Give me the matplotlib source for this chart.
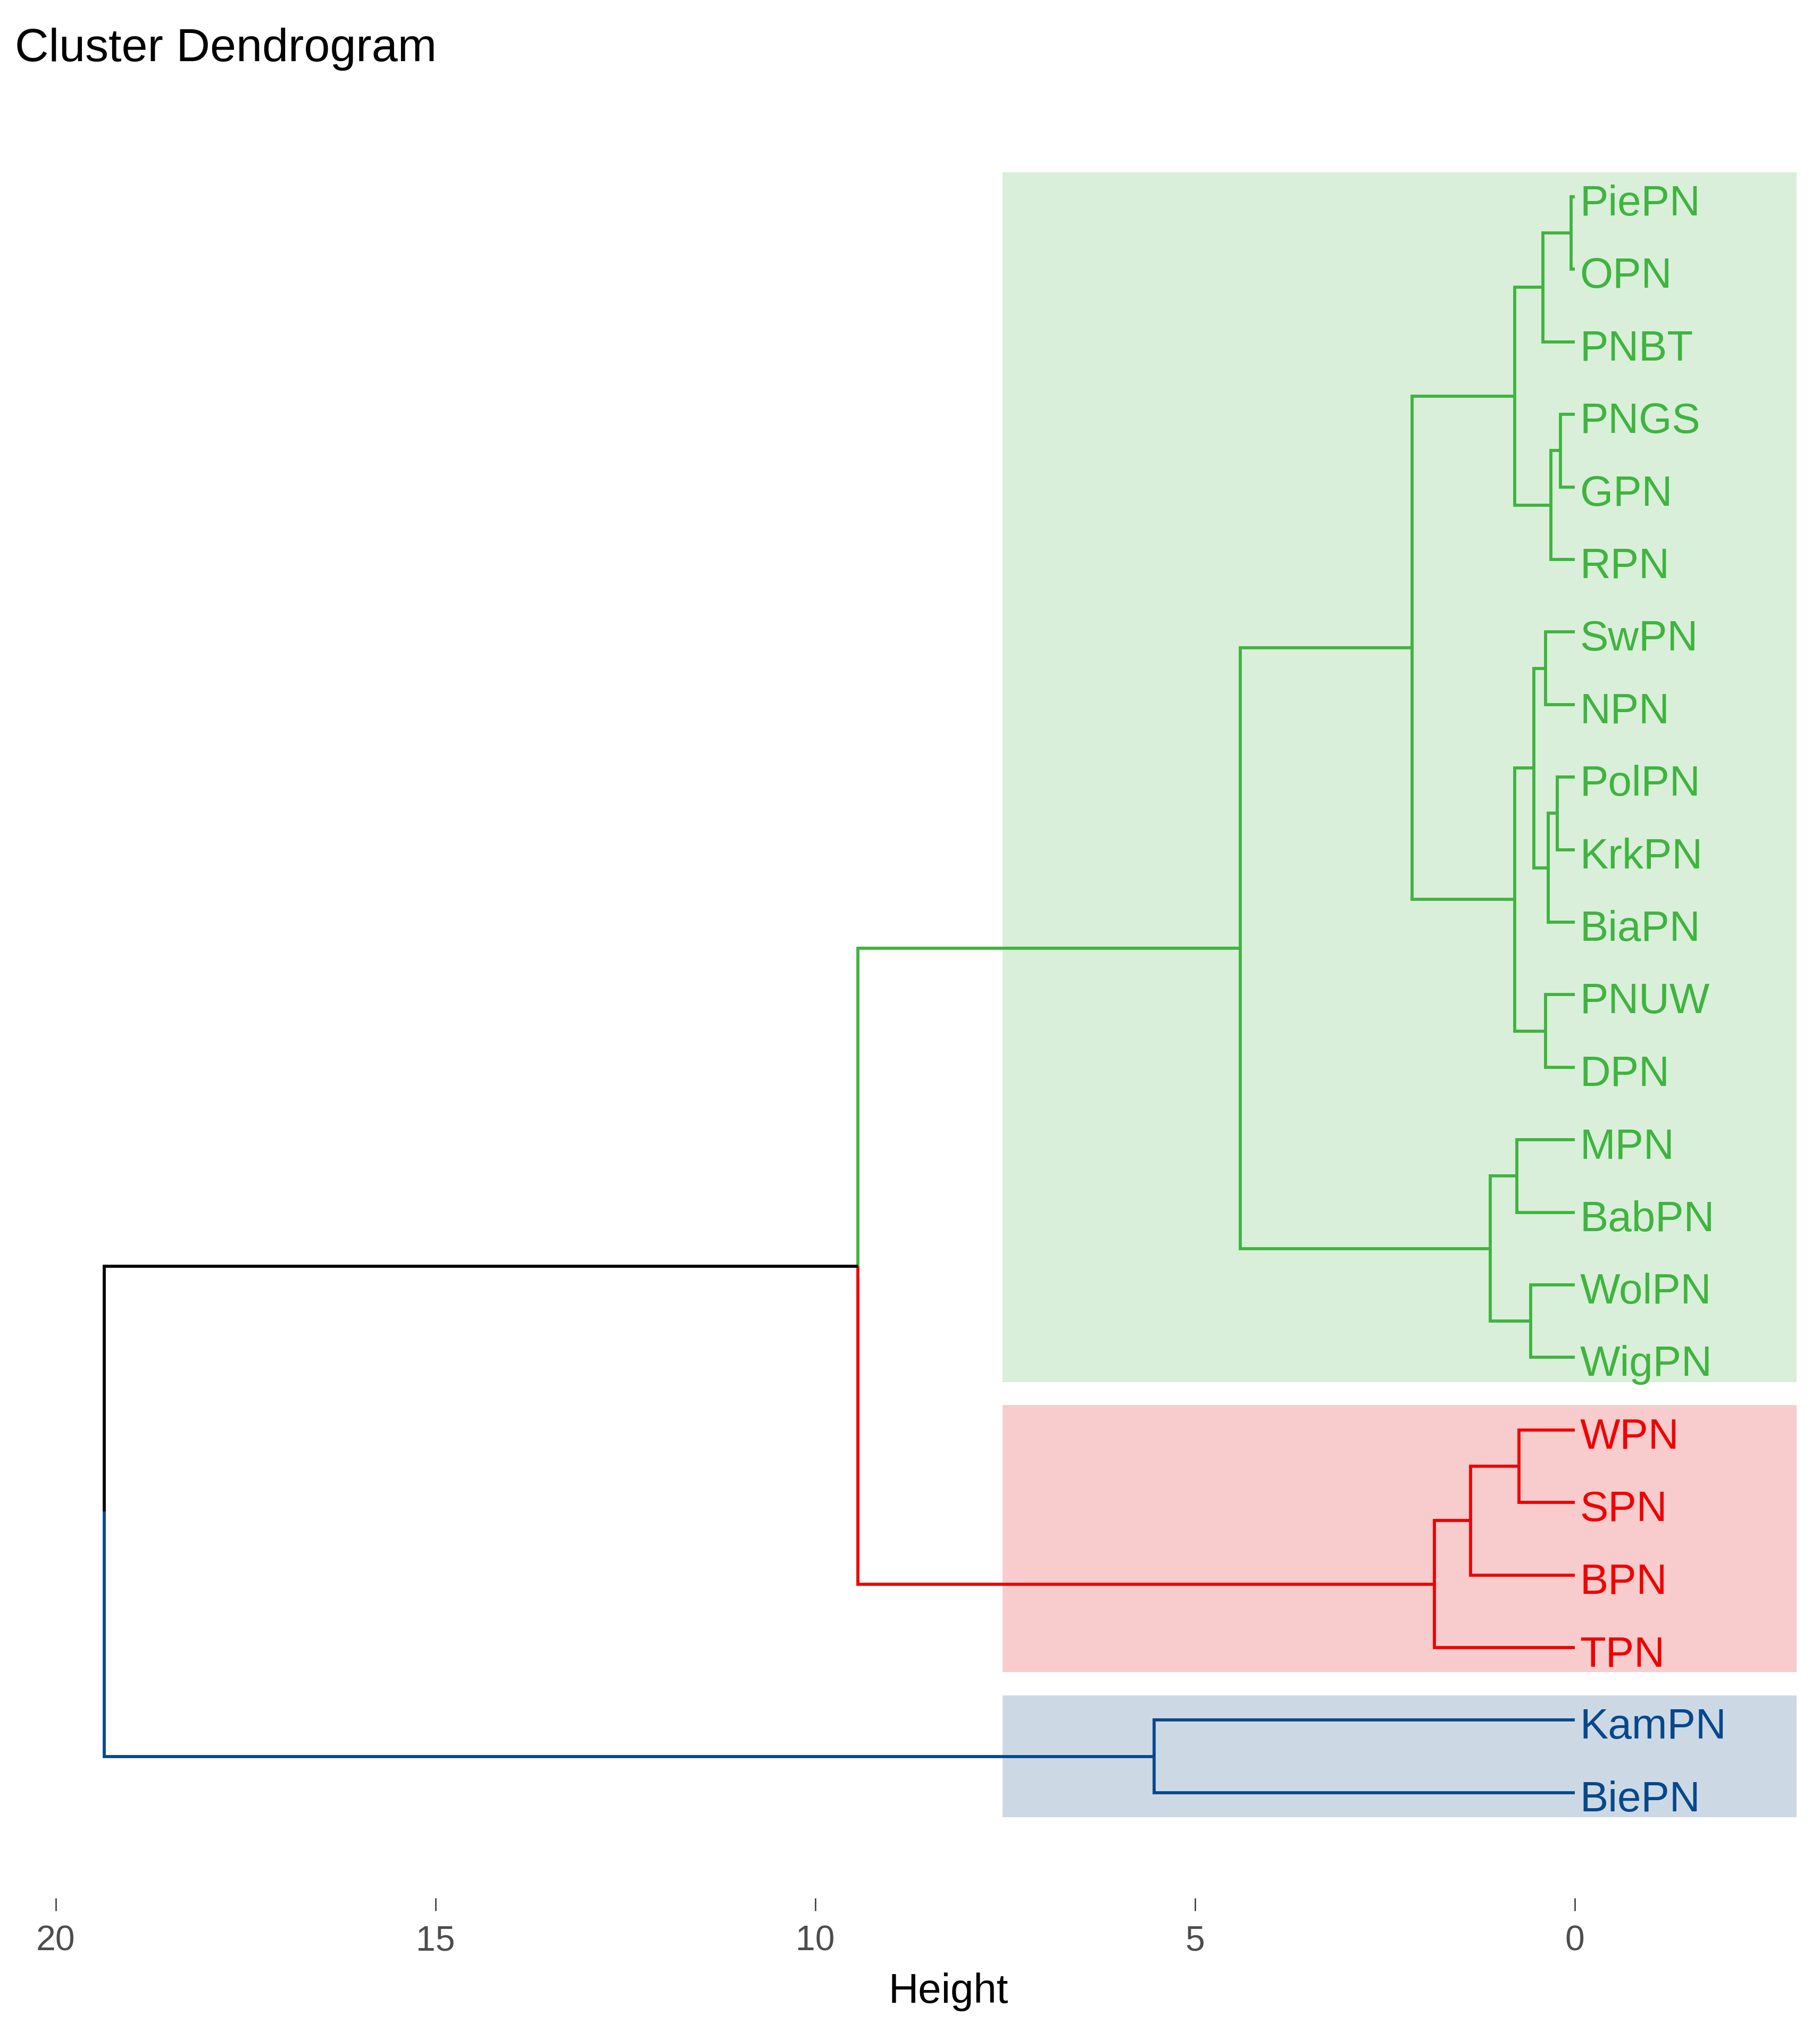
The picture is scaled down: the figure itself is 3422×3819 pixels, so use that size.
import matplotlib
matplotlib.use("Agg")
import matplotlib.pyplot as plt
from matplotlib.patches import Rectangle

# ---------------- data ----------------
leaf_labels = ["PiePN", "OPN", "PNBT", "PNGS", "GPN", "RPN", "SwPN", "NPN",
               "PolPN", "KrkPN", "BiaPN", "PNUW", "DPN", "MPN", "BabPN",
               "WolPN", "WigPN", "WPN", "SPN", "BPN", "TPN", "KamPN", "BiePN"]
# cluster of each leaf (0 = green, 1 = red, 2 = blue)
leaf_cluster = [0] * 17 + [1] * 4 + [2] * 2

# merges: (child_a, child_b, height); leaves 0..22, merged nodes 23..
merge_a = [0, 23, 3, 25, 24, 6, 8, 29, 28, 11, 31, 27, 13, 15, 35, 34, 17, 39, 40, 38, 21, 42]
merge_b = [1, 2, 4, 5, 26, 7, 9, 10, 30, 12, 32, 33, 14, 16, 36, 37, 18, 19, 20, 41, 22, 43]
merge_h = [0.05, 0.42, 0.19, 0.31, 0.79, 0.385, 0.23, 0.35, 0.54, 0.385, 0.79, 2.14,
           0.76, 0.58, 1.11, 4.40, 0.73, 1.37, 1.85, 9.44, 5.54, 19.36]

x_ticks = [20, 15, 10, 5, 0]
x_tick_labels = ["20", "15", "10", "5", "0"]

cluster_line_colors = ["#3FB43F", "#F00000", "#07488C"]
cluster_rect_colors = ["#D9EFD9", "#F8CCCC", "#CCD9E5"]

# ---------------- figure ----------------
W, H = 3422, 3819
DPI = 72
plt.rcParams["font.family"] = ["Liberation Sans", "DejaVu Sans"]
fig = plt.figure(figsize=(W / DPI, H / DPI), dpi=DPI)
fig.patch.set_facecolor("white")

ax = fig.add_axes([40 / W, 1 - 3569 / H, (3410 - 40) / W, (3569 - 300) / H])
ax.set_xlim(20.453, -3.146)
ax.set_ylim(23.453, -0.513)
ax.set_facecolor("none")
for s in ax.spines.values():
    s.set_visible(False)

# cluster rectangles
rect_left_h, rect_right_h = 7.53, -2.92
rect_pad = 0.34
for c in range(3):
    idx = [i for i, cl in enumerate(leaf_cluster) if cl == c]
    lo, hi = min(idx) - rect_pad, max(idx) + rect_pad
    ax.add_patch(Rectangle((rect_right_h, lo), rect_left_h - rect_right_h, hi - lo,
                           facecolor=cluster_rect_colors[c], edgecolor="none", zorder=0))

# tree
n = len(leaf_labels)
pos = {i: (0.0, float(i)) for i in range(n)}
col = {i: cluster_line_colors[leaf_cluster[i]] for i in range(n)}
LW = 5.8
for k, (a, b, h) in enumerate(zip(merge_a, merge_b, merge_h)):
    node = n + k
    y = (pos[a][1] + pos[b][1]) / 2.0
    for ch in (a, b):
        cx, cy = pos[ch]
        ax.plot([cx, h, h], [cy, cy, y], color=col[ch], lw=LW,
                solid_joinstyle="miter", solid_capstyle="butt", zorder=2)
    pos[node] = (h, y)
    col[node] = col[a] if col[a] == col[b] else "black"

# leaf labels
for i, name in enumerate(leaf_labels):
    ax.annotate(name, xy=(0, i), xytext=(10, -35), textcoords="offset points",
                ha="left", va="baseline", fontsize=80,
                color=cluster_line_colors[leaf_cluster[i]], zorder=3)

# axis
ax.set_xticks(x_ticks)
ax.set_xticklabels(x_tick_labels)
ax.set_yticks([])
ax.tick_params(axis="x", direction="out", length=24, width=2.5, color="#333333",
               pad=26, labelsize=66, labelcolor="#4D4D4D")

fig.text(1783 / W, 1 - 3766 / H, "Height", ha="center", va="baseline", fontsize=78,
         color="black")
fig.text(28 / W, 1 - 115 / H, "Cluster Dendrogram", ha="left", va="baseline",
         fontsize=88, color="black")

fig.savefig("out.png", dpi=DPI, facecolor="white")
